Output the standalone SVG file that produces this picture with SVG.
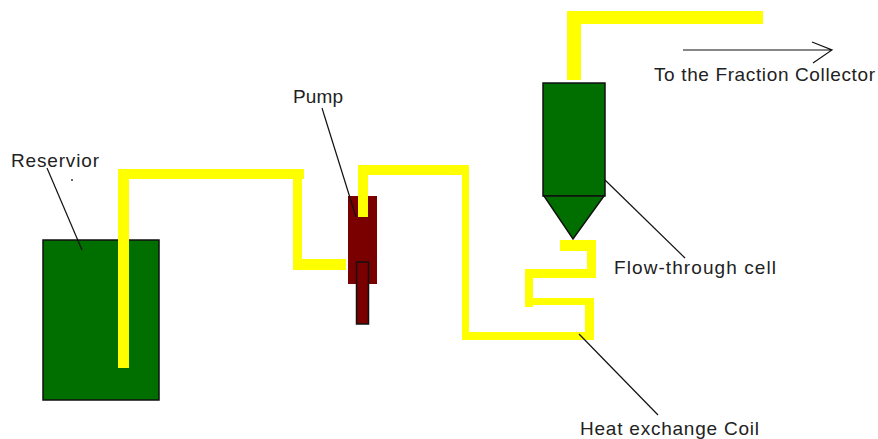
<svg xmlns="http://www.w3.org/2000/svg" width="878" height="439" viewBox="0 0 878 439">
<style>
.y{fill:#ffff00}
.l{fill:none;stroke:#111;stroke-width:1.2}
.g{fill:#006f00;stroke:#111;stroke-width:1.5}
.r{fill:#7a0000}
text{font-family:"Liberation Sans",Arial,sans-serif;font-size:19px;fill:#222}
</style>
<rect width="878" height="439" fill="#fff"/>
<g id="reservoir"><rect class="g" x="43" y="240" width="116" height="160"/><text x="11" y="167" textLength="88">Reservior</text><circle cx="72" cy="180" r="1" fill="#333"/></g>
<g id="pump"><rect class="r" x="348" y="196" width="29" height="88"/><rect class="r" x="356.500" y="262" width="12" height="62" stroke="#111" stroke-width="1.500"/><text x="293" y="103" textLength="50">Pump</text></g>
<g id="cell"><rect class="g" x="543" y="83" width="62" height="113"/><path class="g" d="M544 196H604L573 239Z"/><text x="614" y="274" textLength="162">Flow-through cell</text></g>
<g id="coil"><path class="y" d="M560 240H596V278H533V298H594V340H462V175H368V217H358V165H469V332H585V305H533V307H525V269H587V251H560Z"/><text x="580" y="435" textLength="179">Heat exchange Coil</text></g>
<g id="collector"><text x="654" y="81" textLength="221">To the Fraction Collector</text></g>
<g id="connectors">
<path class="y" d="M118 368V169H304V179H302V259H346V270H293V179H129V368Z"/>
<path class="y" d="M567 80V11H763V24H581V80Z"/>
<path class="l" d="M47 168L82 250"/>
<path class="l" d="M322 108L356 217"/>
<path class="l" d="M605 180L685 258"/>
<path class="l" d="M579 334L658 415"/>
<path class="l" d="M683 50H832M812 42L832 50L813 63"/>
</g>
</svg>
